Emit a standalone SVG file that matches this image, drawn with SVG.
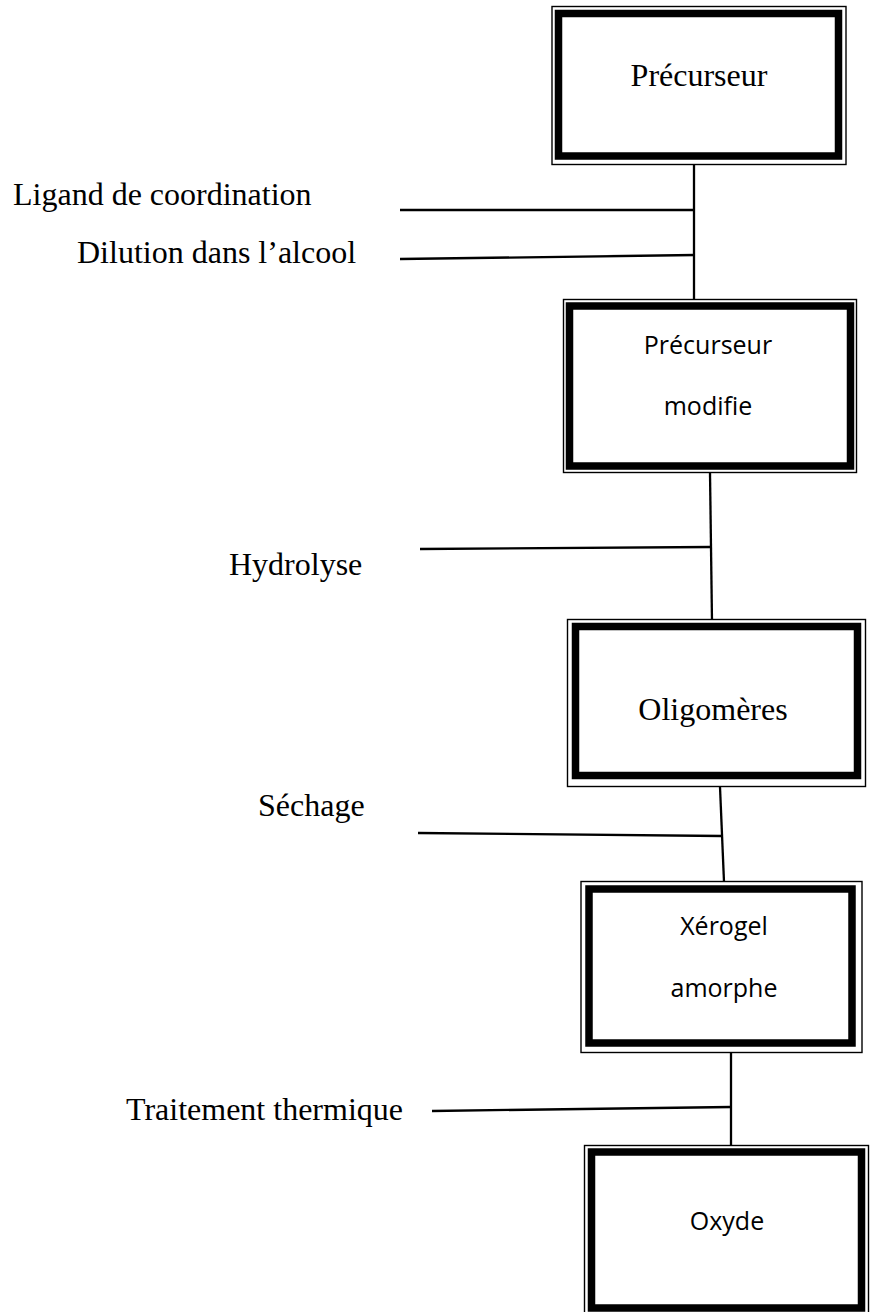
<svg xmlns="http://www.w3.org/2000/svg" width="872" height="1312" viewBox="0 0 872 1312">
  <style>
    .frame { fill: none; stroke: #000; stroke-width: 1.4; }
    .band { fill: none; stroke: #000; stroke-width: 7.5; }
    .fill { fill: #fff; }
    .serif { font-family: "Liberation Serif", "Times New Roman", serif; font-size: 32px; fill: #000; }
    .sans { font-family: "Open Sans", "Noto Sans", sans-serif; font-size: 25px; fill: #000; }
    .mid { text-anchor: middle; }
    .link { stroke: #000; stroke-width: 2.3; fill: none; stroke-linecap: butt; }
  </style>
  <rect width="872" height="1312" fill="#fff"/>

  <!-- connectors: vertical trunk segments and the side feed lines -->
  <g id="connectors">
    <line class="link" x1="694" y1="165" x2="694" y2="299"/>
    <line class="link" x1="400" y1="210" x2="694" y2="210"/>
    <line class="link" x1="400" y1="259" x2="695" y2="255"/>
    <line class="link" x1="710" y1="473" x2="712" y2="621"/>
    <line class="link" x1="420" y1="549" x2="711" y2="547"/>
    <line class="link" x1="720" y1="787" x2="724" y2="882"/>
    <line class="link" x1="418" y1="833" x2="722" y2="836"/>
    <line class="link" x1="731" y1="1053" x2="731" y2="1148"/>
    <line class="link" x1="432" y1="1111" x2="731" y2="1107"/>
  </g>

  <!-- side labels -->
  <g id="labels">
    <text class="serif" x="13" y="205">Ligand de coordination</text>
    <text class="serif" x="77" y="263">Dilution dans l’alcool</text>
    <text class="serif" x="229" y="575">Hydrolyse</text>
    <text class="serif" x="258" y="816">Séchage</text>
    <text class="serif" x="126" y="1120">Traitement thermique</text>
  </g>

  <!-- step boxes: thin outer line with a heavy inner band -->
  <g id="node-precurseur">
    <rect class="fill" x="552" y="6.5" width="294" height="158"/>
    <rect class="frame" x="552" y="6.5" width="294" height="158"/>
    <rect class="band" x="558.5" y="13.5" width="280" height="142.5"/>
    <text class="serif mid" x="699" y="86">Précurseur</text>
  </g>

  <g id="node-precurseur-modifie">
    <rect class="fill" x="563.5" y="299.5" width="293" height="173"/>
    <rect class="frame" x="563.5" y="299.5" width="293" height="173"/>
    <rect class="band" x="569.5" y="306" width="281" height="160"/>
    <text class="sans mid" x="708" y="354">Précurseur</text>
    <text class="sans mid" x="708" y="415">modifie</text>
  </g>

  <g id="node-oligomeres">
    <rect class="fill" x="567.5" y="619.5" width="298" height="167"/>
    <rect class="frame" x="567.5" y="619.5" width="298" height="167"/>
    <rect class="band" x="575.5" y="626.5" width="282" height="149"/>
    <text class="serif mid" x="713" y="720">Oligomères</text>
  </g>

  <g id="node-xerogel">
    <rect class="fill" x="581" y="881.5" width="281" height="171"/>
    <rect class="frame" x="581" y="881.5" width="281" height="171"/>
    <rect class="band" x="589" y="889" width="263" height="154"/>
    <text class="sans mid" x="724" y="935">Xérogel</text>
    <text class="sans mid" x="724" y="997">amorphe</text>
  </g>

  <g id="node-oxyde">
    <rect class="fill" x="584.5" y="1145.5" width="284" height="170"/>
    <rect class="frame" x="584.5" y="1145.5" width="284" height="170"/>
    <rect class="band" x="591.5" y="1152" width="270" height="156"/>
    <text class="sans mid" x="727" y="1230">Oxyde</text>
  </g>
</svg>
